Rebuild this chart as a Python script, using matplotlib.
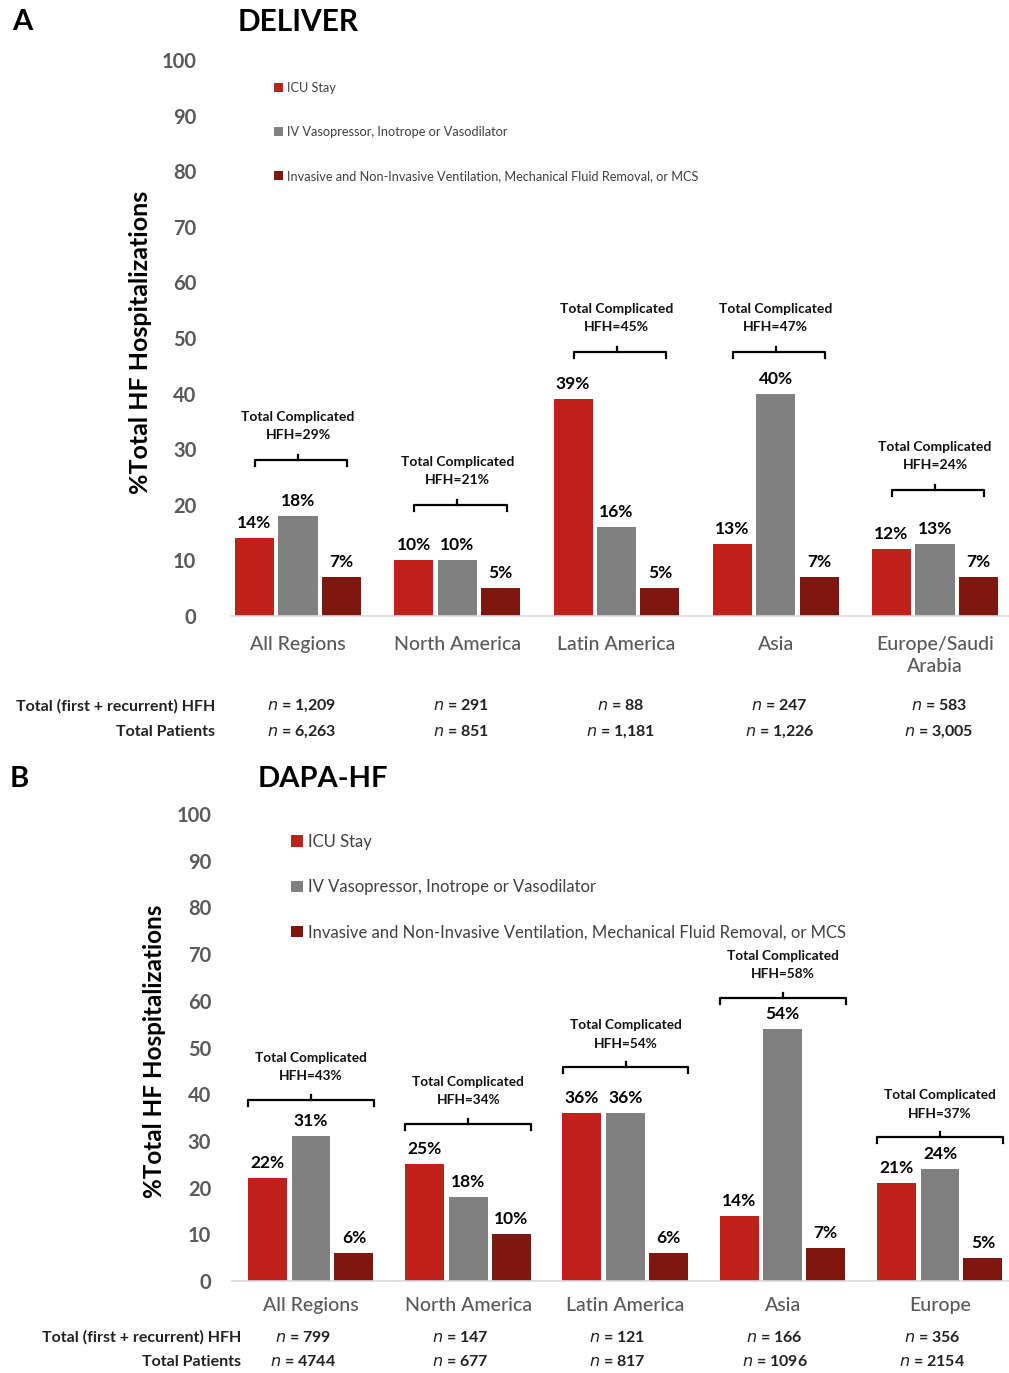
import matplotlib
matplotlib.use("Agg")
import matplotlib.pyplot as plt
from matplotlib import font_manager

# ---------------- data ----------------
series_names = ["ICU Stay",
                "IV Vasopressor, Inotrope or Vasodilator",
                "Invasive and Non-Invasive Ventilation, Mechanical Fluid Removal, or MCS"]

deliver_regions = ["All Regions", "North America", "Latin America", "Asia", "Europe/Saudi\nArabia"]
deliver_icu = [14, 10, 39, 13, 12]
deliver_iv = [18, 10, 16, 40, 13]
deliver_vent = [7, 5, 5, 7, 7]
deliver_total_complicated = [29, 21, 45, 47, 24]
deliver_hfh_n = ["1,209", "291", "88", "247", "583"]
deliver_patients_n = ["6,263", "851", "1,181", "1,226", "3,005"]

dapa_regions = ["All Regions", "North America", "Latin America", "Asia", "Europe"]
dapa_icu = [22, 25, 36, 14, 21]
dapa_iv = [31, 18, 36, 54, 24]
dapa_vent = [6, 10, 6, 7, 5]
dapa_total_complicated = [43, 34, 54, 58, 37]
dapa_hfh_n = ["799", "147", "121", "166", "356"]
dapa_patients_n = ["4744", "677", "817", "1096", "2154"]

row_labels = ["Total (first + recurrent) HFH", "Total Patients"]
y_ticks = list(range(0, 101, 10))

# ---------------- style ----------------
W, H, DPI = 1009, 1373, 100
COLORS = ["#C0211A", "#808080", "#7E1710"]
TICK_GRAY = "#595959"

avail = {f.name for f in font_manager.fontManager.ttflist}
FA = ["Lato", "DejaVu Sans"]
FB = (["Liberation Sans Narrow", "Lato", "DejaVu Sans"]
      if "Liberation Sans Narrow" in avail else ["Lato", "DejaVu Sans"])

fig = plt.figure(figsize=(W / DPI, H / DPI), dpi=DPI)
fig.patch.set_facecolor("white")


def fy(py):
    return 1 - py / H


def fx(px):
    return px / W


def panel(center0, spacing, xleft_px, y0_px, y100_px, offsets, width,
          regions, icu, iv, vent, totals, bracket_y, bracket_span,
          hfh_n, pat_n, fam, sizes, cat_y, row_y, row_right, n_dx,
          legend_xy, legend_fs, legend_spacing, ylabel_x, bracket_tick):
    xlim_left = (xleft_px - center0) / spacing
    xlim_right = (W - center0) / spacing
    ax = fig.add_axes([fx(xleft_px), fy(y0_px), fx(W - xleft_px),
                       (y0_px - y100_px) / H])
    ax.set_xlim(xlim_left, xlim_right)
    ax.set_ylim(0, 100)
    ax.set_facecolor("none")
    for s in ["left", "right", "top"]:
        ax.spines[s].set_visible(False)
    ax.spines["bottom"].set_color("#D9D9D9")
    ax.spines["bottom"].set_linewidth(1.2)
    ax.set_xticks([])
    ax.set_yticks(y_ticks, [str(t) for t in y_ticks], family=FA,
                  fontsize=sizes["tick"], fontweight="bold", color=TICK_GRAY)
    ax.tick_params(axis="y", length=0, pad=sizes["tickpad"])

    xs = list(range(len(regions)))
    handles = []
    for k, vals in enumerate([icu, iv, vent]):
        bars = ax.bar([x + offsets[k] for x in xs], vals, width=width,
                      color=COLORS[k], label=series_names[k], zorder=2)
        handles.append(bars)
        for x, v in zip(xs, vals):
            ax.annotate(f"{v}%", (x + offsets[k], v), xytext=(0, 5),
                        textcoords="offset points", ha="center", va="bottom",
                        family=fam, fontsize=sizes["value"], fontweight="bold",
                        color="black")

    # brackets for total complicated HFH
    for x, tot, by in zip(xs, totals, bracket_y):
        x0, x1 = x + bracket_span[0], x + bracket_span[1]
        d = bracket_tick
        ax.plot([x0, x0, x1, x1], [by - d, by, by, by - d], color="black",
                lw=1.6, solid_joinstyle="round", clip_on=False)
        ax.plot([x, x], [by, by + d * 0.8], color="black", lw=1.6, clip_on=False)
        ax.annotate(f"HFH={tot}%", (x, by), xytext=(0, sizes["b2"]),
                    textcoords="offset points", ha="center", va="center",
                    family=fam, fontsize=sizes["bracket"], fontweight="bold",
                    color="#111111")
        ax.annotate("Total Complicated", (x, by), xytext=(0, sizes["b1"]),
                    textcoords="offset points", ha="center", va="center",
                    family=fam, fontsize=sizes["bracket"], fontweight="bold",
                    color="#111111")

    # category labels and counts below the axis
    for x, reg, a, b in zip(xs, regions, hfh_n, pat_n):
        px = center0 + x * spacing
        fig.text(fx(px), fy(cat_y), reg, ha="center", va="top",
                 family=fam, fontsize=sizes["cat"], color=TICK_GRAY,
                 linespacing=1.35, fontweight="medium")
        fig.text(fx(px + n_dx), fy(row_y[0]), f"$\\it{{n}}$ = {a}", ha="center",
                 va="center", family=fam, fontsize=sizes["row"], color="#222222",
                 fontweight="bold")
        fig.text(fx(px + n_dx), fy(row_y[1]), f"$\\it{{n}}$ = {b}", ha="center",
                 va="center", family=fam, fontsize=sizes["row"], color="#222222",
                 fontweight="bold")
    for lab, ry in zip(row_labels, row_y):
        fig.text(fx(row_right), fy(ry), lab, ha="right", va="center",
                 family=fam, fontsize=sizes["row"], fontweight="bold",
                 color="#222222")

    fig.text(fx(ylabel_x), fy((y0_px + y100_px) / 2 + 4),
             "%Total HF Hospitalizations", rotation=90, ha="center",
             va="center", family=FA, fontsize=sizes["ylabel"],
             fontweight="bold", color="black")

    leg = ax.legend(handles=handles, loc="upper left",
                    bbox_to_anchor=(fx(legend_xy[0]), fy(legend_xy[1])),
                    bbox_transform=fig.transFigure, frameon=False,
                    borderaxespad=0, borderpad=0, handlelength=0.7,
                    handleheight=0.7, handletextpad=0.3,
                    labelspacing=legend_spacing,
                    prop={"family": fam, "size": legend_fs})
    for t in leg.get_texts():
        t.set_color("#404040")
    return ax


# Panel A: DELIVER
panel(center0=298, spacing=159.25, xleft_px=231, y0_px=616, y100_px=60,
      offsets=[-0.273, 0.0, 0.273], width=0.245,
      regions=deliver_regions, icu=deliver_icu, iv=deliver_iv,
      vent=deliver_vent, totals=deliver_total_complicated,
      bracket_y=[28, 20, 47.5, 47.5, 22.7], bracket_span=(-0.27, 0.31),
      hfh_n=deliver_hfh_n, pat_n=deliver_patients_n, fam=FA,
      sizes={"tick": 14.5, "tickpad": 25, "value": 12.5, "bracket": 10,
             "b1": 31, "b2": 18, "cat": 14, "row": 11.5, "ylabel": 18},
      cat_y=636, row_y=(706, 732), row_right=215, n_dx=4,
      legend_xy=(274, 82), legend_fs=9.2, legend_spacing=2.5,
      ylabel_x=140, bracket_tick=1.1)

# Panel B: DAPA-HF
panel(center0=311, spacing=157.25, xleft_px=232, y0_px=1281, y100_px=814,
      offsets=[-0.277, 0.0, 0.273], width=0.248,
      regions=dapa_regions, icu=dapa_icu, iv=dapa_iv,
      vent=dapa_vent, totals=dapa_total_complicated,
      bracket_y=[38.8, 33.6, 45.8, 60.6, 30.8], bracket_span=(-0.4, 0.4),
      hfh_n=dapa_hfh_n, pat_n=dapa_patients_n, fam=FB,
      sizes={"tick": 14.5, "tickpad": 15, "value": 12.5, "bracket": 9.8,
             "b1": 30, "b2": 17, "cat": 14, "row": 11.5, "ylabel": 17.5},
      cat_y=1297, row_y=(1337, 1362), row_right=241, n_dx=-8,
      legend_xy=(291, 834), legend_fs=12, legend_spacing=1.75,
      ylabel_x=155, bracket_tick=1.3)

# Panel letters and titles
fig.text(fx(12), fy(22), "A", ha="left", va="center", family=FA,
         fontsize=21, fontweight="bold")
fig.text(fx(238), fy(22), "DELIVER", ha="left", va="center", family=FA,
         fontsize=21.5, fontweight="bold")
fig.text(fx(10), fy(779), "B", ha="left", va="center", family=FB,
         fontsize=21, fontweight="bold")
fig.text(fx(258), fy(779), "DAPA-HF", ha="left", va="center", family=FB,
         fontsize=21, fontweight="bold")

fig.savefig("out.png", dpi=DPI, facecolor="white")
